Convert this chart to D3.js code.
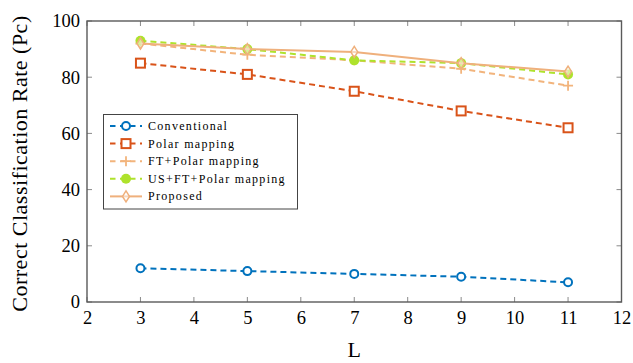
<!DOCTYPE html>
<html>
<head>
<meta charset="utf-8">
<script src="https://cdn.jsdelivr.net/npm/d3@7"></script>
<style>
  html, body { margin: 0; padding: 0; background: #fff; }
  svg { display: block; }
  text { font-family: "Liberation Serif", "DejaVu Serif", serif; fill: #000; }
</style>
</head>
<body>
<svg id="chart" width="633" height="363"></svg>
<script>
// Window length L and correct classification rates (%) per method
const lengths = [3, 5, 7, 9, 11];
const conventional = [12, 11, 10, 9, 7];
const polarMapping = [85, 81, 75, 68, 62];
const ftPolar = [92, 88, 86, 83, 77];
const usFtPolar = [93, 90, 86, 85, 81];
const proposed = [92, 90, 89, 85, 82];

const seriesNames = ["Conventional", "Polar mapping", "FT+Polar mapping", "US+FT+Polar mapping", "Proposed"];
const xTicks = [2, 3, 4, 5, 6, 7, 8, 9, 10, 11, 12];
const yTicks = [0, 20, 40, 60, 80, 100];

const series = [
  { name: seriesNames[0], values: conventional, color: "#0072BD", dash: "6,4", marker: "circle" },
  { name: seriesNames[1], values: polarMapping, color: "#D95319", dash: "6,4", marker: "square" },
  { name: seriesNames[2], values: ftPolar, color: "#F2B47C", dash: "6,4", marker: "plus" },
  { name: seriesNames[3], values: usFtPolar, color: "#AEE22C", dash: "6,4", marker: "dot" },
  { name: seriesNames[4], values: proposed, color: "#EFB07C", dash: null, marker: "diamond" }
];

const svg = d3.select("#chart");
const box = { left: 87, right: 621.5, top: 21, bottom: 302 };

const x = d3.scaleLinear().domain([2, 12]).range([box.left, box.right]);
const y = d3.scaleLinear().domain([0, 100]).range([box.bottom, box.top]);

// Inward ticks on all four sides
const tickColor = "#8a8a8a";
const ticks = svg.append("g").attr("stroke", tickColor).attr("stroke-width", 1);
xTicks.forEach(t => {
  ticks.append("line").attr("x1", x(t)).attr("x2", x(t)).attr("y1", box.bottom).attr("y2", box.bottom - 5);
  ticks.append("line").attr("x1", x(t)).attr("x2", x(t)).attr("y1", box.top).attr("y2", box.top + 5);
});
yTicks.forEach(t => {
  ticks.append("line").attr("y1", y(t)).attr("y2", y(t)).attr("x1", box.left).attr("x2", box.left + 5);
  ticks.append("line").attr("y1", y(t)).attr("y2", y(t)).attr("x1", box.right).attr("x2", box.right - 5);
});

// Axis frame
svg.append("rect")
  .attr("x", box.left).attr("y", box.top)
  .attr("width", box.right - box.left).attr("height", box.bottom - box.top)
  .attr("fill", "none").attr("stroke", "#5a5a5a").attr("stroke-width", 1.4);

// Tick labels via d3 axes with hidden lines
const xAxis = svg.append("g")
  .attr("transform", `translate(0,${box.bottom})`)
  .call(d3.axisBottom(x).tickValues(xTicks).tickSize(0).tickPadding(9).tickFormat(d3.format("d")));
xAxis.select(".domain").remove();
xAxis.selectAll("text").attr("font-size", 18.5).attr("fill", "#000");

const yAxis = svg.append("g")
  .attr("transform", `translate(${box.left},0)`)
  .call(d3.axisLeft(y).tickValues(yTicks).tickSize(0).tickPadding(7).tickFormat(d3.format("d")));
yAxis.select(".domain").remove();
yAxis.selectAll("text").attr("font-size", 18.5).attr("fill", "#000");

// Axis titles
svg.append("text")
  .attr("x", (box.left + box.right) / 2).attr("y", 357)
  .attr("text-anchor", "middle").attr("font-size", 22)
  .text("L");

svg.append("text")
  .attr("transform", `translate(27,${(box.top + box.bottom) / 2 + 2}) rotate(-90)`)
  .attr("text-anchor", "middle").attr("font-size", 22).attr("letter-spacing", 0.5)
  .text("Correct Classification Rate (Pc)");

// Marker drawing
function drawMarker(g, kind, cx, cy, color) {
  if (kind === "circle") {
    g.append("circle").attr("cx", cx).attr("cy", cy).attr("r", 4)
      .attr("fill", "#fff").attr("stroke", color).attr("stroke-width", 2);
  } else if (kind === "square") {
    g.append("rect").attr("x", cx - 4.5).attr("y", cy - 4.5).attr("width", 9).attr("height", 9)
      .attr("fill", "#fff").attr("stroke", color).attr("stroke-width", 2);
  } else if (kind === "plus") {
    g.append("path").attr("d", `M${cx - 5},${cy}H${cx + 5}M${cx},${cy - 5}V${cy + 5}`)
      .attr("stroke", color).attr("stroke-width", 1.8).attr("fill", "none");
  } else if (kind === "dot") {
    g.append("circle").attr("cx", cx).attr("cy", cy).attr("r", 5).attr("fill", color);
  } else if (kind === "diamond") {
    g.append("path").attr("d", `M${cx},${cy - 5.5}L${cx + 3.5},${cy}L${cx},${cy + 5.5}L${cx - 3.5},${cy}Z`)
      .attr("fill", "#fff").attr("fill-opacity", 0.5).attr("stroke", color).attr("stroke-width", 1.5);
  }
}

const line = d3.line().x(d => x(d[0])).y(d => y(d[1]));

series.forEach(s => {
  const pts = lengths.map((l, i) => [l, s.values[i]]);
  const g = svg.append("g");
  g.append("path").datum(pts).attr("d", line)
    .attr("fill", "none").attr("stroke", s.color).attr("stroke-width", 2)
    .attr("stroke-dasharray", s.dash);
  pts.forEach(p => drawMarker(g, s.marker, x(p[0]), y(p[1]), s.color));
});

// Legend
const legend = svg.append("g");
legend.append("rect")
  .attr("x", 103.5).attr("y", 114.5).attr("width", 194).attr("height", 94.5)
  .attr("fill", "#fff").attr("stroke", "#444").attr("stroke-width", 1);
series.forEach((s, i) => {
  const ly = 126 + i * 17.6;
  legend.append("line").attr("x1", 110).attr("x2", 142).attr("y1", ly).attr("y2", ly)
    .attr("stroke", s.color).attr("stroke-width", 2).attr("stroke-dasharray", s.dash ? "5.5,4.5" : null);
  drawMarker(legend, s.marker, 126, ly, s.color);
  legend.append("text").attr("x", 148).attr("y", ly + 4).attr("font-size", 12)
    .attr("letter-spacing", 1.3).text(s.name);
});
</script>
</body>
</html>
